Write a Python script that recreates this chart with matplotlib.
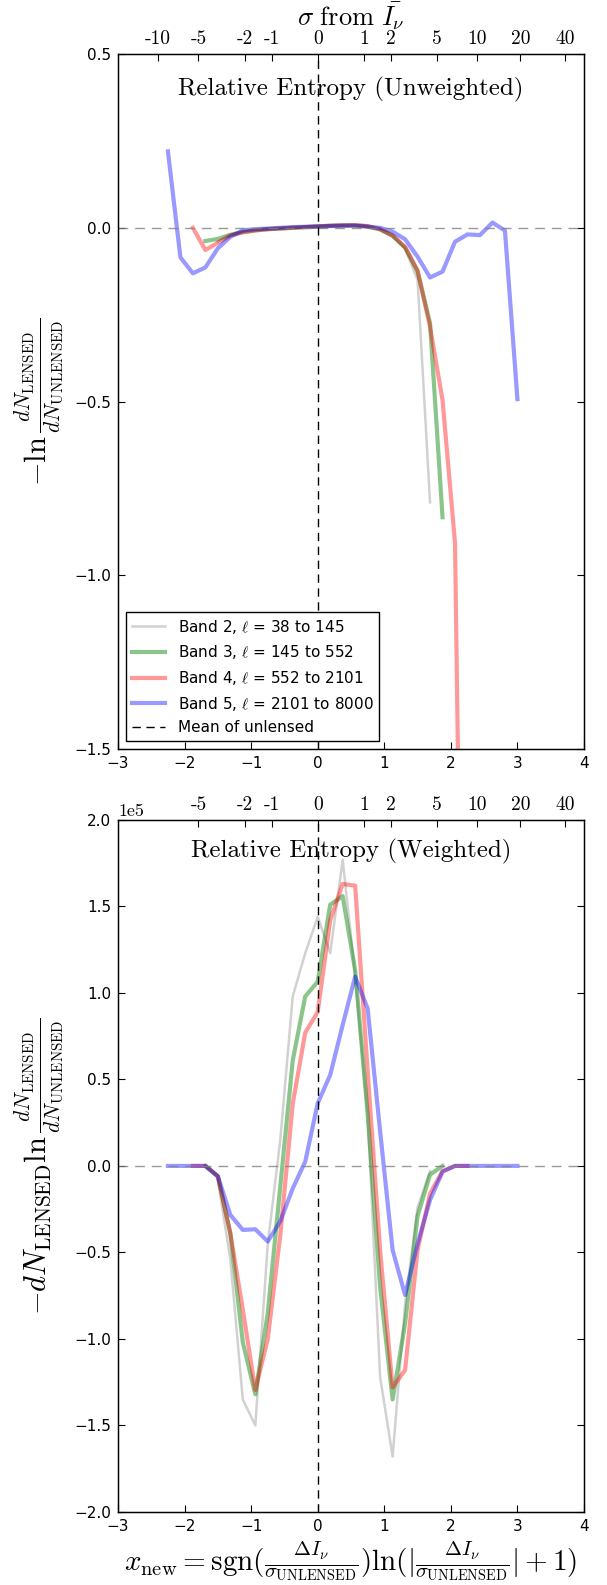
import numpy as np
import matplotlib
matplotlib.use('Agg')
import matplotlib.pyplot as plt

plt.rcParams['mathtext.fontset'] = 'cm'
plt.rcParams['font.size'] = 11
plt.rcParams['axes.unicode_minus'] = True

# common x grid (x_new bins)
x_grid = [-2.25, -2.0625, -1.875, -1.6875, -1.5, -1.3125, -1.125, -0.9375,
          -0.75, -0.5625, -0.375, -0.1875, 0.0, 0.1875, 0.375, 0.5625,
          0.75, 0.9375, 1.125, 1.3125, 1.5, 1.6875, 1.875, 2.0625,
          2.25, 2.4375, 2.625, 2.8125, 3.0]

band_labels = [r'Band 2, $\ell$ = 38 to 145',
               r'Band 3, $\ell$ = 145 to 552',
               r'Band 4, $\ell$ = 552 to 2101',
               r'Band 5, $\ell$ = 2101 to 8000']
band_start = [4, 3, 2, 0]   # first bin index of each band

# unweighted: -ln(dN_lensed/dN_unlensed)
b2_unw = [-0.04, -0.02, -0.012, -0.007, -0.004, -0.002, 0.0, 0.002, 0.004,
          0.006, 0.007, 0.007, 0.004, -0.005, -0.024, -0.06, -0.15, -0.79]
b3_unw = [-0.038, -0.032, -0.02, -0.012, -0.007, -0.004, -0.002, 0.0, 0.002,
          0.004, 0.006, 0.007, 0.007, 0.004, -0.005, -0.023, -0.057, -0.125,
          -0.275, -0.833]
b4_unw = [0.0, -0.064, -0.043, -0.022, -0.013, -0.008, -0.004, -0.002, 0.0,
          0.002, 0.004, 0.006, 0.007, 0.008, 0.005, -0.004, -0.022, -0.055,
          -0.123, -0.285, -0.496, -0.907, -3.5]
b5_unw = [0.22, -0.085, -0.131, -0.114, -0.059, -0.026, -0.007, -0.004,
          -0.002, 0.0, 0.002, 0.003, 0.004, 0.005, 0.006, 0.006, 0.003, 0.0,
          -0.011, -0.033, -0.083, -0.143, -0.126, -0.040, -0.019, -0.021,
          0.015, -0.008, -0.493]

# weighted: -dN_lensed ln(...), in units of 1e5
b2_w = [-0.08, -0.54, -1.35, -1.5, -0.45, 0.15, 0.98, 1.23, 1.44, 1.23,
        1.77, 1.1, 0.3, -1.22, -1.68, -0.8, -0.24, -0.03]
b3_w = [0.0, -0.06, -0.39, -1.02, -1.32, -0.85, -0.12, 0.61, 0.98, 1.065,
        1.51, 1.56, 1.13, 0.3, -0.7, -1.35, -0.91, -0.29, -0.05, 0.0]
b4_w = [0.0, 0.0, -0.06, -0.39, -0.83, -1.295, -1.0, -0.4, 0.36, 0.77, 0.89,
        1.42, 1.63, 1.62, 0.55, -0.49, -1.28, -1.18, -0.486, -0.16, -0.03,
        0.0, 0.0]
b5_w = [0.0, 0.0, 0.0, 0.0, -0.06, -0.283, -0.37, -0.366, -0.437, -0.32,
        -0.13, 0.025, 0.362, 0.526, 0.815, 1.094, 0.91, 0.2, -0.486, -0.746,
        -0.45, -0.197, -0.033, 0.0, 0.0, 0.0, 0.0, 0.0, 0.0]
w_scale = 1e5

sigma_top1 = [-10, -5, -2, -1, 0, 1, 2, 5, 10, 20, 40]
sigma_top2 = [-5, -2, -1, 0, 1, 2, 5, 10, 20, 40]

styles = [dict(color='k', alpha=0.18, lw=1.8),
          dict(color='g', alpha=0.45, lw=3),
          dict(color='r', alpha=0.4, lw=3),
          dict(color='b', alpha=0.4, lw=3)]

fig = plt.figure(figsize=(6.07, 15.85), dpi=100)
ax1 = fig.add_axes([0.1944, 0.5274, 0.7677, 0.4385])
ax2 = fig.add_axes([0.1944, 0.0461, 0.7677, 0.4366])


def draw(ax, series, scale, sigmas, title, ty):
    for ys, st, lab, s0 in zip(series, styles, band_labels, band_start):
        xs = x_grid[s0:s0 + len(ys)]
        ax.plot(xs, np.array(ys) * scale, label=lab, **st)
    ax.axhline(0, color='gray', ls='--', dashes=(7, 5), lw=1, alpha=0.8)
    ax.axvline(0, color='k', ls='--', dashes=(6, 4), lw=1,
               label='Mean of unlensed')
    ax.set_xlim(-3, 4)
    ax.set_xticks(range(-3, 5))
    ax.tick_params(direction='in', length=5, top=False, right=True,
                   labelsize=11, pad=5)
    ax.text(0.5, ty, title, transform=ax.transAxes, ha='center', va='top',
            fontfamily='cmr10', fontsize=18)
    for sp in ax.spines.values():
        sp.set_linewidth(1)
    tw = ax.twiny()
    tw.set_xlim(-3, 4)
    pos = [np.sign(s) * np.log(abs(s) + 1) for s in sigmas]
    tw.set_xticks(pos)
    tw.set_xticklabels([str(s) for s in sigmas], fontfamily='cmr10',
                       fontsize=14)
    tw.tick_params(direction='in', length=5, pad=4)
    return tw


tw1 = draw(ax1, [b2_unw, b3_unw, b4_unw, b5_unw], 1.0, sigma_top1,
           'Relative Entropy (Unweighted)', 0.967)
ax1.set_ylim(-1.5, 0.5)
ax1.set_yticks([-1.5, -1.0, -0.5, 0.0, 0.5])
ax1.set_ylabel(r'$-\ln\frac{dN_{\rm LENSED}}{dN_{\rm UNLENSED}}$',
               fontsize=22, labelpad=6)
tw1.set_xlabel(r'$\sigma\ \mathrm{from}\ \bar{I_\nu}$', fontsize=19,
               labelpad=4)
leg = ax1.legend(loc='lower left', fontsize=11, fancybox=False,
                 framealpha=1, handlelength=2.2)
leg.get_frame().set_edgecolor('k')
leg.get_frame().set_linewidth(1)

draw(ax2, [b2_w, b3_w, b4_w, b5_w], w_scale, sigma_top2,
     'Relative Entropy (Weighted)', 0.972)
ax2.set_ylim(-2e5, 2e5)
ax2.set_yticks(np.arange(-2e5, 2.01e5, 0.5e5))
ax2.ticklabel_format(axis='y', style='sci', scilimits=(0, 0))
ax2.yaxis.get_offset_text().set_fontfamily('cmr10')
ax2.yaxis.get_offset_text().set_fontsize(13)
ax2.set_ylabel(r'$-dN_{\rm LENSED}\ln\frac{dN_{\rm LENSED}}{dN_{\rm UNLENSED}}$',
               fontsize=22, labelpad=6)
ax2.set_xlabel(r'$x_{\rm new} = {\rm sgn}(\frac{\Delta I_\nu}{\sigma_{\rm UNLENSED}})'
               r'{\rm ln}(|\frac{\Delta I_\nu}{\sigma_{\rm UNLENSED}}| + 1)$',
               fontsize=21, labelpad=4)

fig.savefig('out.png', dpi=100, facecolor='white')
